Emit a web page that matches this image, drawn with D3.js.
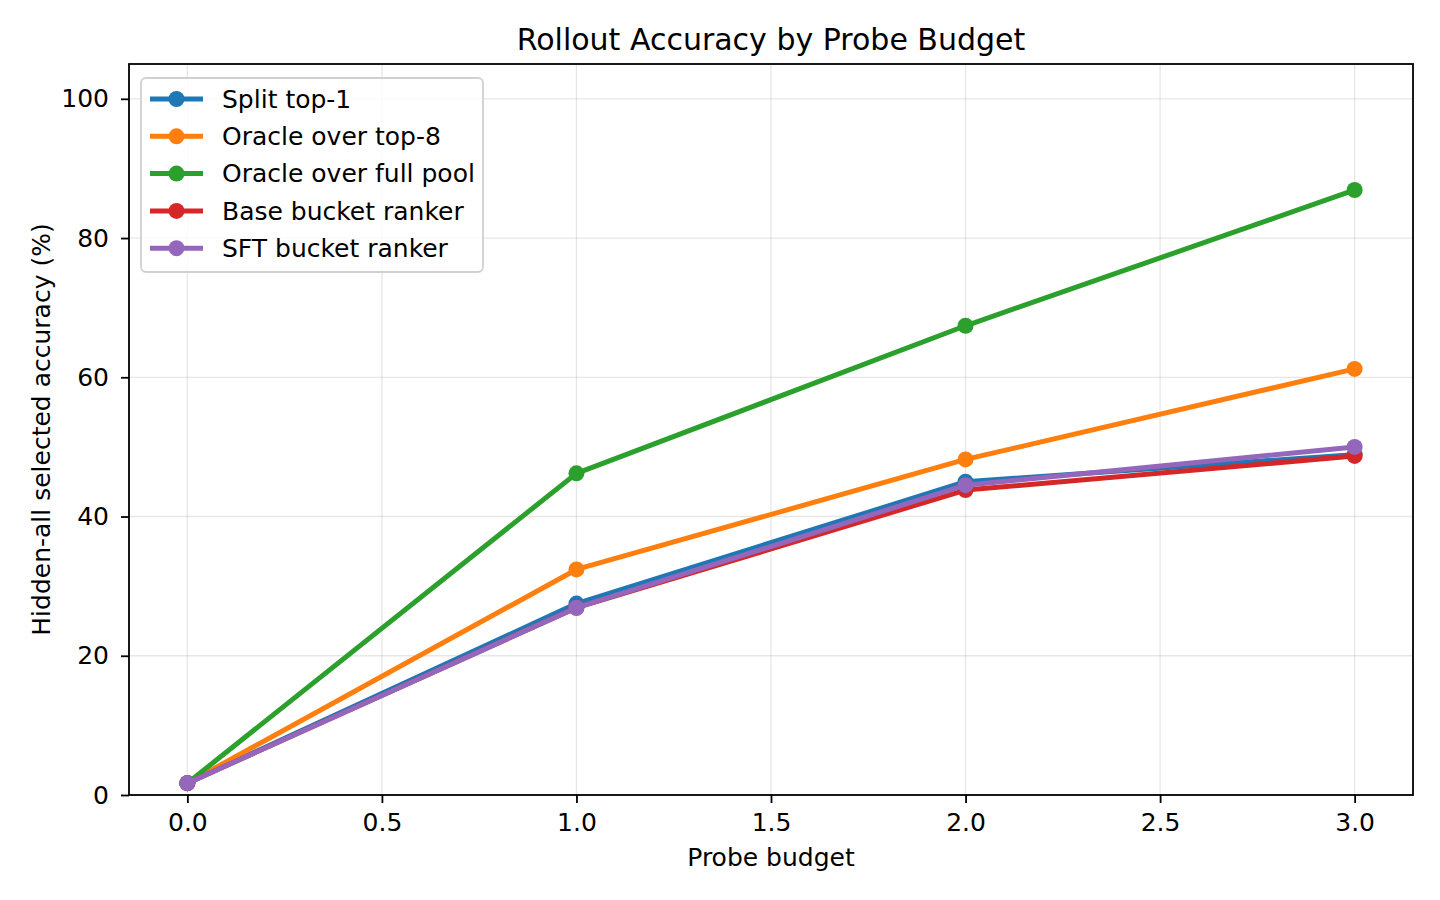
<!DOCTYPE html>
<html>
<head>
<meta charset="utf-8">
<script src="https://cdn.jsdelivr.net/npm/d3@7"></script>
<style>
  body { margin: 0; background: #fff; }
  text { font-family: "DejaVu Sans", sans-serif; }
</style>
</head>
<body>
<div id="chart"></div>
<script>
// data
const budgets = [0, 1, 2, 3];
const seriesNames = ["Split top-1", "Oracle over top-8", "Oracle over full pool", "Base bucket ranker", "SFT bucket ranker"];
const seriesColors = ["#1f77b4", "#ff7f0e", "#2ca02c", "#d62728", "#9467bd"];
const splitTop1 = [1.7, 27.5, 45.0, 48.9];
const oracleTop8 = [1.7, 32.4, 48.2, 61.2];
const oracleFull = [1.7, 46.2, 67.4, 86.9];
const baseRanker = [1.7, 26.9, 43.8, 48.7];
const sftRanker = [1.7, 26.9, 44.5, 50.0];
const xTicks = [0, 0.5, 1, 1.5, 2, 2.5, 3];
const yTicks = [0, 20, 40, 60, 80, 100];

const allValues = [splitTop1, oracleTop8, oracleFull, baseRanker, sftRanker];

// set the dimensions and margins of the graph
const W = 1440, H = 900;
const margin = {top: 64, right: 27, bottom: 105, left: 129},
      width = W - margin.left - margin.right,
      height = H - margin.top - margin.bottom;

const svg = d3.select("#chart")
              .append("svg")
              .attr("width", W)
              .attr("height", H);

const g = svg.append("g")
             .attr("transform", `translate(${margin.left},${margin.top})`);

const x = d3.scaleLinear().domain([-0.15, 3.15]).range([0, width]);
const y = d3.scaleLinear().domain([0, 105]).range([height, 0]);

// grid
g.append("g")
 .selectAll("line")
 .data(xTicks)
 .join("line")
 .attr("x1", d => x(d)).attr("x2", d => x(d))
 .attr("y1", 0).attr("y2", height)
 .attr("stroke", "#b0b0b0").attr("stroke-opacity", 0.3).attr("stroke-width", 1.3);
g.append("g")
 .selectAll("line")
 .data(yTicks)
 .join("line")
 .attr("x1", 0).attr("x2", width)
 .attr("y1", d => y(d)).attr("y2", d => y(d))
 .attr("stroke", "#b0b0b0").attr("stroke-opacity", 0.3).attr("stroke-width", 1.3);

// axes
const xAxis = g.append("g")
   .attr("transform", `translate(0,${height})`)
   .call(d3.axisBottom(x).tickValues(xTicks).tickFormat(d3.format(".1f")).tickSizeOuter(0).tickSize(8).tickPadding(10));
const yAxis = g.append("g")
   .call(d3.axisLeft(y).tickValues(yTicks).tickFormat(d3.format("d")).tickSizeOuter(0).tickSize(8).tickPadding(12));
[xAxis, yAxis].forEach(a => {
  a.selectAll("text").style("font-size", "25px").attr("fill", "#000").style("font-family", "DejaVu Sans");
  a.selectAll("line").attr("stroke", "#000").attr("stroke-width", 1.8);
  a.select(".domain").remove();
});

// frame
g.append("rect")
 .attr("width", width).attr("height", height)
 .attr("fill", "none").attr("stroke", "#000").attr("stroke-width", 1.8);

// lines
const line = d3.line()
               .x((d, i) => x(budgets[i]))
               .y(d => y(d));

allValues.forEach((vals, k) => {
  g.append("path")
   .attr("d", line(vals))
   .attr("fill", "none")
   .attr("stroke", seriesColors[k])
   .attr("stroke-width", 5)
   .attr("stroke-linejoin", "round")
   .attr("stroke-linecap", "square");
  g.selectAll(null)
   .data(vals)
   .join("circle")
   .attr("cx", (d, i) => x(budgets[i]))
   .attr("cy", d => y(d))
   .attr("r", 8)
   .attr("fill", seriesColors[k]);
});

// title and labels
svg.append("text")
   .attr("x", margin.left + width / 2).attr("y", 50)
   .attr("text-anchor", "middle")
   .style("font-size", "30px")
   .text("Rollout Accuracy by Probe Budget");
svg.append("text")
   .attr("x", margin.left + width / 2).attr("y", 866)
   .attr("text-anchor", "middle")
   .style("font-size", "25px")
   .text("Probe budget");
svg.append("text")
   .attr("transform", `translate(50,${margin.top + height / 2}) rotate(-90)`)
   .attr("text-anchor", "middle")
   .style("font-size", "25px")
   .text("Hidden-all selected accuracy (%)");

// legend
const legend = svg.append("g").attr("transform", "translate(141,78)");
legend.append("rect")
      .attr("width", 342).attr("height", 194)
      .attr("rx", 5)
      .attr("fill", "#fff").attr("fill-opacity", 0.8)
      .attr("stroke", "#d0d0d0").attr("stroke-width", 1.8);
seriesNames.forEach((name, k) => {
  const ly = 21 + k * 37.3;
  legend.append("line")
        .attr("x1", 9).attr("x2", 62).attr("y1", ly).attr("y2", ly)
        .attr("stroke", seriesColors[k]).attr("stroke-width", 5);
  legend.append("circle")
        .attr("cx", 35.5).attr("cy", ly).attr("r", 8)
        .attr("fill", seriesColors[k]);
  legend.append("text")
        .attr("x", 81).attr("y", ly + 8.8)
        .style("font-size", "25px")
        .text(name);
});
</script>
</body>
</html>
